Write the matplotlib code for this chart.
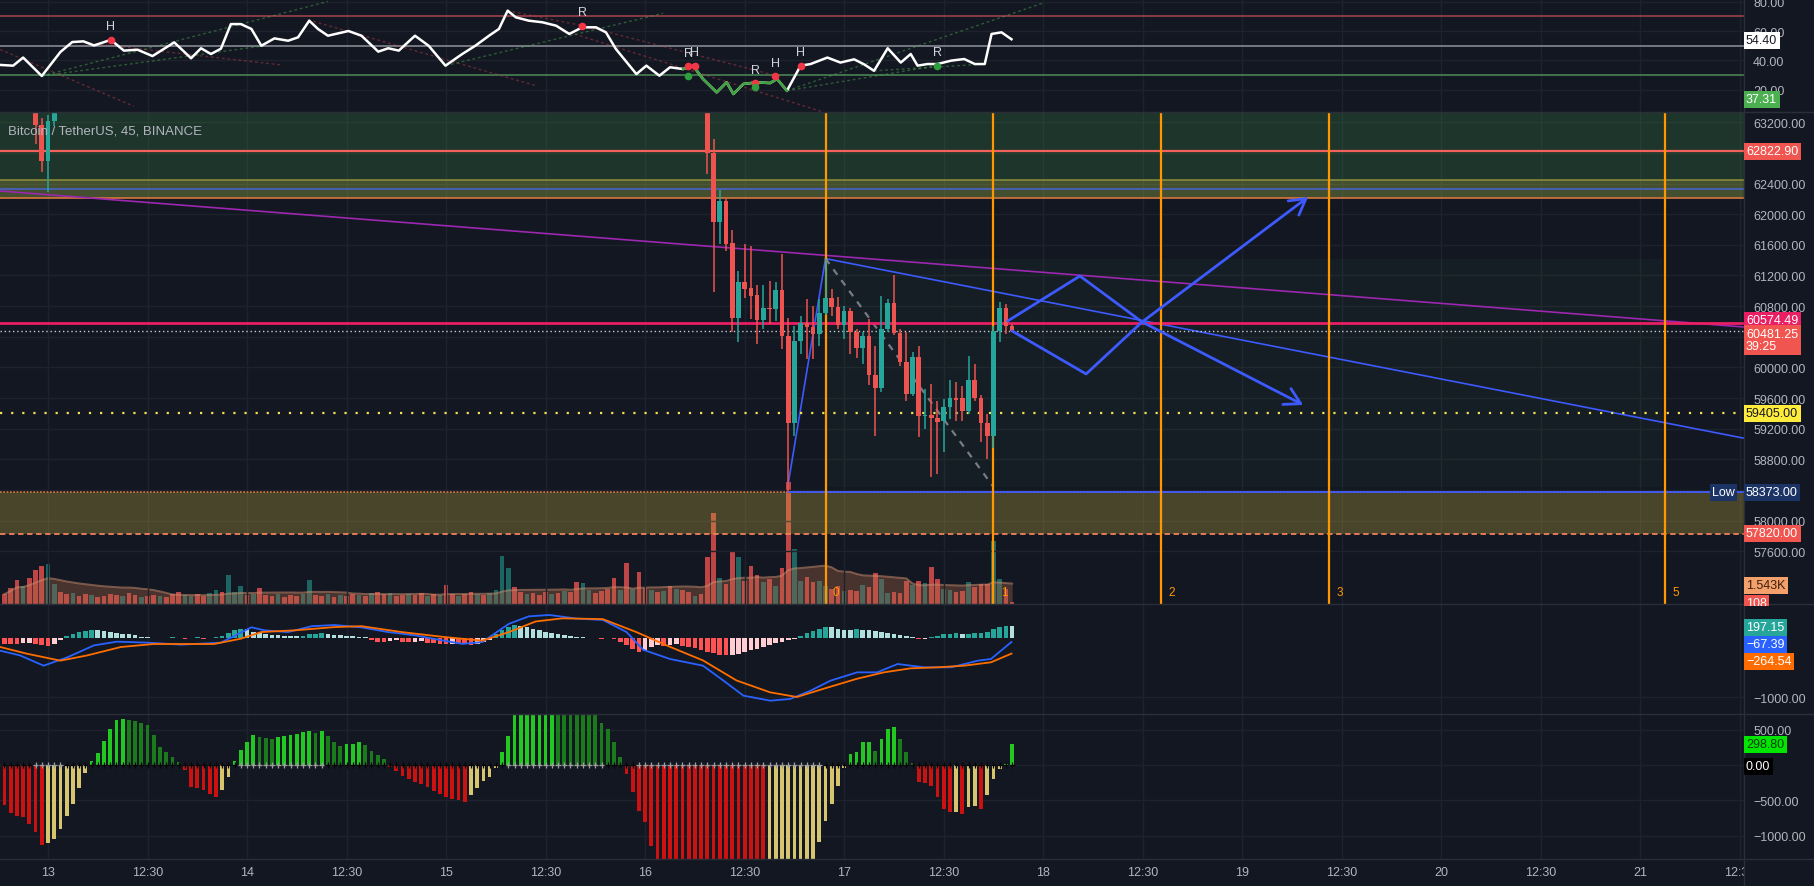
import matplotlib
matplotlib.use('Agg')
import matplotlib.pyplot as plt
import numpy as np
import pandas as pd
from matplotlib.lines import Line2D
from matplotlib.transforms import Bbox, TransformedBbox, blended_transform_factory

# ----------------------------------------------------------------- data
time_label_bars = [0, 16, 32, 48, 64, 80, 96, 112, 128, 144, 160, 176, 192, 208, 224, 240, 256, 272]
time_labels = ['13', '12:30', '14', '12:30', '15', '12:30', '16', '12:30', '17', '12:30',
               '18', '12:30', '19', '12:30', '20', '12:30', '21', '12:30']

price_ticks = [57600, 58000, 58400, 58800, 59200, 59600, 60000, 60400, 60800,
               61200, 61600, 62000, 62400, 62800, 63200]
price_ticks_hidden = [58400, 60400, 62800]     # covered by price tags in the reference
rsi_ticks = [20, 40, 60, 80]
macd_ticks = [-1000]
osc_ticks = [500, 0, -500, -1000]
osc_ticks_hidden = [0]

# candles (bar index: 32 bars of 45 min per day, bar 0 = day 13 00:00)
candle_bar = [-2, -1, 0, 1] + list(range(106, 156))
c_open = [63400, 63160, 62700, 63220,
          63600, 62800, 61900, 62170, 61620, 60650, 61120, 61040, 60940, 60620,
          60775, 60760, 61010, 60415, 59275, 60340, 60575, 60525, 60440, 60705,
          60900, 60785, 60555, 60735, 60460, 60250, 60405, 59900, 59730, 60500,
          60840, 60445, 60065, 59650, 60140, 59365, 59380, 59340, 59300, 59480,
          59600, 59600, 59435, 59840, 59600, 59275, 59100, 60472, 60772, 60546]
c_high = [63500, 63250, 63300, 63450,
          63700, 62980, 62310, 62200, 61800, 61260, 61610, 61590, 61070, 61070,
          61130, 61120, 61480, 60650, 60545, 60675, 60890, 60805, 60890, 61420,
          61020, 60915, 60805, 60780, 60500, 60460, 60635, 60285, 60930, 60895,
          61210, 60500, 60460, 60200, 60285, 59720, 59785, 59565, 59590, 59830,
          59805, 59760, 60155, 60045, 59640, 59390, 60540, 60850, 60830, 60560]
c_low = [62920, 62547, 62286, 63150,
         62520, 60990, 61610, 61520, 60460, 60330, 60900, 60630, 60310, 60500,
         60560, 60600, 60240, 58373, 59110, 60175, 60110, 60110, 60285, 60680,
         60675, 60500, 60370, 60175, 60120, 60045, 59765, 59110, 59675, 60460,
         60420, 60020, 59565, 59630, 59085, 59195, 58570, 58610, 58890, 59325,
         59305, 59305, 59390, 59565, 59020, 58800, 58950, 60330, 60435, 60460]
c_close = [63160, 62700, 63220, 63400,
           62800, 61900, 62170, 61610, 60650, 61120, 61020, 60930, 60620, 60770,
           60765, 61010, 60415, 59275, 60340, 60575, 60525, 60440, 60705, 60900,
           60785, 60555, 60735, 60460, 60250, 60405, 59900, 59730, 60500, 60840,
           60445, 60065, 59650, 60140, 59365, 59380, 59340, 59290, 59480, 59600,
           59580, 59435, 59840, 59600, 59275, 59100, 60472, 60772, 60546, 60481.25]

# per-bar series for bars -7 .. 155
first_bar = -7
volume = [770, 1230, 1850, 1390, 2000, 2620, 2930, 3080, 1540, 920,
          770, 850, 620, 770, 690, 540, 620, 770, 690, 620,
          850, 690, 540, 620, 690, 620, 540, 770, 920, 690,
          620, 770, 620, 850, 1080, 920, 2230, 920, 1390, 690,
          770, 1230, 690, 620, 770, 540, 690, 620, 770, 1850,
          690, 620, 770, 540, 690, 620, 770, 690, 620, 850,
          920, 770, 850, 620, 690, 770, 690, 850, 620, 770,
          690, 1460, 770, 620, 770, 920, 770, 690, 850, 1080,
          3700, 2770, 1310, 920, 770, 850, 690, 920, 770, 850,
          1000, 920, 1690, 1620, 1080, 850, 1000, 1160, 2000, 1080,
          3160, 1160, 2460, 1230, 1080, 920, 1000, 1390, 1160, 1080,
          920, 620, 770, 3620, 7010, 2000, 1540, 4080, 3620, 1770,
          2930, 2230, 1690, 1930, 1390, 2770, 9390, 4240, 1770, 2080,
          1690, 1770, 1390, 1160, 1390, 1000, 1080, 1000, 1460, 1310,
          2390, 1930, 850, 920, 850, 1770, 1460, 1770, 1620, 2850,
          1930, 1160, 1080, 920, 1000, 1690, 1310, 1540, 1540, 4850,
          1930, 1160, 150]
vol_dir = [-1, -1, -1, 1, -1, -1, -1, 1, 1, -1,
           -1, 1, -1, -1, 1, -1, -1, -1, -1, 1,
           -1, -1, 1, -1, -1, 1, -1, -1, -1, 1,
           1, -1, -1, 1, 1, -1, 1, 1, 1, -1,
           1, -1, -1, -1, 1, -1, -1, -1, 1, 1,
           -1, -1, 1, -1, 1, -1, -1, 1, -1, 1,
           -1, -1, 1, -1, -1, 1, -1, -1, 1, -1,
           1, -1, -1, 1, -1, -1, 1, -1, 1, 1,
           1, 1, -1, -1, 1, -1, -1, -1, 1, -1,
           1, -1, -1, 1, 1, -1, -1, -1, -1, 1,
           -1, 1, -1, -1, 1, -1, 1, -1, 1, -1,
           -1, 1, -1, -1, -1, 1, -1, -1, 1, -1,
           -1, -1, 1, -1, 1, -1, -1, 1, 1, -1,
           -1, 1, 1, -1, -1, 1, -1, -1, 1, -1,
           -1, 1, 1, -1, -1, -1, 1, -1, 1, -1,
           -1, 1, 1, -1, -1, 1, -1, -1, -1, 1,
           1, -1, -1]
macd_hist = [-100, -105, -110, -90, -85, -110, -125, -130, -100, -40,
             30, 70, 110, 125, 135, 130, 120, 100, 90, 75,
             60, 45, 25, 10, 5, -5, 5, 10, 0, -10,
             5, 10, -15, 5, 15, 40, 90, 130, 160, 150,
             110, 90, 70, 55, 45, 40, 35, 30, 40, 60,
             75, 80, 70, 55, 45, 40, 30, 20, 10, -30,
             -60, -70, -50, -40, -60, -75, -60, -50, -80, -90,
             -100, -110, -95, -100, -110, -120, -95, -70, -40, 60,
             130, 190, 215, 200, 180, 160, 130, 110, 90, 70,
             50, 40, 25, 15, 5, 0, -10, -5, -20, -60,
             -120, -180, -238, -220, -150, -120, -130, -125, -110, -130,
             -150, -170, -200, -230, -260, -280, -295, -290, -270, -240,
             -210, -180, -150, -120, -90, -60, -40, -15, 30, 80,
             120, 160, 187, 180, 160, 140, 130, 150, 140, 130,
             120, 110, 90, 70, 50, 30, 10, -20, -10, 20,
             40, 60, 75, 80, 70, 75, 80, 90, 110, 150,
             180, 200, 197.15]
osc_hist = [-560, -680, -717, -740, -835, -950, -1130, -1100, -1048, -900,
            -717, -552, -330, -120, 60, 170, 345, 510, 637, 651,
            640, 620, 590, 570, 420, 260, 180, 108, 40, -70,
            -310, -330, -360, -410, -458, -360, -175, 60, 210, 330,
            425, 390, 385, 375, 390, 410, 420, 440, 470, 486,
            460, 486, 410, 320, 275, 300, 300, 320, 280, 200,
            140, 80, -30, -80, -151, -200, -245, -270, -316, -363,
            -410, -458, -480, -500, -519, -430, -330, -222, -175, -40,
            179, 415, 740, 780, 820, 850, 870, 890, 900, 880,
            860, 840, 820, 800, 780, 760, 600, 510, 330, 110,
            -127, -387, -647, -812, -1142, -1400, -1500, -1600, -1700, -1750,
            -1800, -1850, -1900, -1950, -2000, -2050, -2100, -2150, -2200, -2250,
            -2300, -2350, -2400, -2380, -2300, -2200, -2000, -1800, -1600, -1450,
            -1350, -1095, -788, -552, -293, -40, 156, 180, 321, 321,
            200, 368, 510, 533, 370, 180, 30, -245, -260, -300,
            -458, -623, -670, -660, -694, -600, -580, -620, -430, -200,
            -60, 10, 298.8]
squeeze_ranges = [(-2, 2), (31, 44), (74, 89), (95, 124)]

# RSI (sampled)
rsi_bar = [-7.7, -5.6, -4.0, -1.0, 2.0, 3.9, 5.7, 7.4, 10.1, 12.2, 14.4, 16.8, 20.3, 23.0, 24.6,
           26.2, 27.8, 29.4, 31.0, 32.7, 34.3, 36.4, 38.6, 40.2, 42.0, 43.4, 45.0, 48.3, 50.4, 53.1,
           54.7, 56.4, 59.0, 61.2, 63.9, 66.6, 68.7, 70.9, 72.5, 73.9, 75.2, 77.3, 79.5, 81.7, 83.8,
           85.9, 88.1, 89.7, 91.3, 94.6, 96.2, 98.3, 100.0, 102.1, 103.7, 105.3, 107.5, 109.1, 110.2,
           111.8, 114.0, 116.1, 117.2, 118.8, 121.0, 122.6, 125.3, 127.4, 129.6, 131.2, 132.8, 135.0,
           137.1, 138.7, 139.8, 141.4, 143.0, 145.2, 147.3, 149.0, 150.6, 151.7, 153.3, 154.9]
rsi_val = [37, 36.5, 42, 29.5, 45.8, 52.5, 53, 50.2, 54, 46.7, 47.3, 43, 52.3, 41.5, 48.3,
           44.4, 48, 64.7, 64.7, 61.4, 50, 55, 53.4, 55.7, 67, 61.4, 56.8, 60, 56.8, 46,
           48.3, 46.7, 56.8, 50, 36.5, 44.4, 50, 56.8, 61.4, 73.8, 69.3, 67, 65.9, 63.6, 58,
           62.5, 62.5, 59.1, 47.8, 30.8, 36.5, 29.7, 35.4, 34.2, 36.5, 27.5, 18.4, 25.2, 17.3,
           24.1, 25.2, 24.7, 27.5, 19.5, 36.5, 37.6, 42, 38.6, 40.8, 37.4, 33, 48.3,
           38.6, 44.4, 36.5, 37.6, 37.6, 39.9, 41, 37.6, 37.6, 58, 59.1, 54.4]
rsi_levels = [70, 50, 30]
rsi_div_range = (102.0, 119.0)
rsi_pivots = [(10.1, 54.0, 'H', 'r'), (85.9, 63.6, 'R', 'r'), (102.9, 36.0, 'R', 'r'),
              (104.0, 36.5, 'H', 'r'), (113.7, 24.5, 'R', 'r'), (116.9, 29.5, 'H', 'r'),
              (121.0, 36.5, 'H', 'r'), (143.0, 36.5, 'R', 'g')]
rsi_green_dots = [(102.9, 29.7), (113.7, 22.2)]
rsi_red_lines = [((-7.7, 13.8), (47.5, 9)), ((4, 37.5), (53, 37)), ((41.8, 78.4), (67.6, 23)),
                 ((73.8, 86), (73.8, 63.6)), ((86, 117.2), (63.6, 29.6)), ((83.8, 124.7), (59, 5))]
rsi_green_lines = [((-1, 45), (29.5, 80)), ((-1, 34.8), (29.5, 50)), ((63.9, 98.9), (36.5, 72)),
                   ((118.8, 160), (19.5, 79)), ((118.8, 143), (19.5, 36.5)), ((132.8, 150.6), (33, 37.6))]

# MACD lines (sampled)
macd_bar = [-7.7, -4.5, -0.7, 3.1, 7.4, 11.1, 16, 21.4, 27.8, 32.7, 34.8, 38.6, 42.4, 46.1, 50.4,
            54.7, 59, 63.4, 66.6, 69.8, 74.1, 77.3, 80.6, 84.9, 89.2, 93, 95.7, 100, 105.3, 108.6,
            111.8, 116.1, 119.3, 122.6, 125.8, 130.1, 133.3, 136.6, 140.9, 145.2, 149.5, 151.6, 154.9]
macd_val = [-215, -295, -469, -328, -125, -62, -79, -113, -79, 181, 130, 100, 200, 220, 180,
            100, 45, -40, -100, -70, 240, 367, 390, 330, 305, 102, -200, -356, -469, -723,
            -977, -1062, -1034, -893, -723, -582, -582, -441, -497, -497, -384, -356, -67.39]
sig_bar = [-7.7, -3.4, 2, 6.3, 11.7, 17, 26.7, 31, 34.3, 39.7, 46.1, 50.4, 56.9, 63.4, 69.8,
           74.1, 78.4, 82.7, 89.2, 94.6, 100, 105.3, 110.7, 116.1, 120.4, 124.7, 130.1, 134.4,
           138.7, 143, 147.3, 151.6, 154.9]
sig_val = [-152, -266, -384, -295, -153, -102, -102, -12, 101, 130, 185, 200, 100, 20, -45,
           100, 280, 333, 320, 100, -150, -380, -720, -921, -1000, -860, -690, -582,
           -514, -497, -469, -412, -264.54]

# price levels / drawings
resist_level = 62822.90
top_zone = (62212, 64000)
top_band = (62212, 62445)
band_mid_level = 62330
pink_level = 60574.49
last_price = 60481.25
yellow_level = 59405.00
low_level = 58373.00
support_level = 57820.00
low_bar = 119
purple_bars, purple_price = [-8, 273], [62305, 60525]
desc_bars, desc_price = [125, 273], [61420, 59070]
rise_bars, rise_price = [119, 125], [58480, 61420]
dash_bars, dash_price = [125, 152], [61420, 58440]
pattern_bars, pattern_price = (125, 259.5), (58440, 61420)
fc_up_bars, fc_up_price = [155, 166.9, 175.9, 202.6], [60475, 59914, 60593, 62225]
fc_dn_bars, fc_dn_price = [154.3, 165.9, 175.9, 201.8], [60606, 61193, 60593, 59510]
fib_bars = [125, 152, 179, 206, 260]
fib_labels = ['0', '1', '2', '3', '5']

# ----------------------------------------------------------------- style
W, H, DPI = 1814, 887, 100
BG = '#131722'
GRID = '#1e222d'
TXT = '#b2b5be'
SEP = '#2a2e39'
UP = '#26a69a'
DN = '#ef5350'
BLUE = '#3d5afe'
PLOT_R = 1744
XMIN, XMAX = -48 / 6.22, (PLOT_R - 48) / 6.22

plt.rcParams['font.family'] = ['Liberation Sans', 'DejaVu Sans']

fig = plt.figure(figsize=(W / DPI, H / DPI), dpi=DPI, facecolor=BG)


def rect(y0, y1):
    return [0, 1 - y1 / H, PLOT_R / W, (y1 - y0) / H]


ax_rsi = fig.add_axes(rect(0, 113))
ax_vol = fig.add_axes(rect(113, 605))
ax = fig.add_axes(rect(113, 605))
ax_macd = fig.add_axes(rect(605, 715))
ax_osc = fig.add_axes(rect(715, 860))

for a in (ax_rsi, ax, ax_macd, ax_osc):
    a.set_facecolor(BG)
    a.set_xlim(XMIN, XMAX)
    for s in a.spines.values():
        s.set_visible(False)
    a.yaxis.tick_right()
    a.tick_params(axis='y', colors=TXT, labelsize=9, length=0, pad=6.5)
    a.tick_params(axis='x', length=0, labelbottom=False)
    a.set_xticks(time_label_bars)
    a.grid(True, color=GRID, lw=1)
    a.set_axisbelow(True)

ax_vol.set_facecolor(BG)
ax_vol.set_xlim(XMIN, XMAX)
ax_vol.axis('off')
ax_vol.set_zorder(0)
ax.set_facecolor('none')
ax.set_zorder(1)

bars = np.arange(first_bar, first_bar + len(volume))

# ----------------------------------------------------------------- RSI
ax_rsi.set_ylim(5.08, 81.7)
ax_rsi.set_yticks(rsi_ticks)
ax_rsi.set_yticklabels([f'{t:.2f}' for t in rsi_ticks])
for lv, col in zip(rsi_levels, ['#a8444f', '#8f929b', '#4f8a5a']):
    ax_rsi.axhline(lv, color=col, lw=1.1, zorder=1)
for (xs, ys) in rsi_red_lines:
    ax_rsi.plot(xs, ys, color='#c2404a', lw=1, alpha=0.45, ls=(0, (2, 2)), zorder=1.5)
for (xs, ys) in rsi_green_lines:
    ax_rsi.plot(xs, ys, color='#4caf50', lw=1, alpha=0.45, ls=(0, (2, 2)), zorder=1.5)
ax_rsi.plot(rsi_bar, rsi_val, color='white', lw=1.8, zorder=3)
rb = np.array(rsi_bar)
rv = np.array(rsi_val)
m = (rb >= rsi_div_range[0]) & (rb <= rsi_div_range[1])
ax_rsi.plot(rb[m], rv[m], color='#3ca33c', lw=1.8, zorder=3.5)
for bx, by, lab, c in rsi_pivots:
    col = '#f23645' if c == 'r' else '#2e9e3e'
    ax_rsi.plot([bx], [by], 'o', ms=4.5, color=col, zorder=4)
    ax_rsi.text(bx, by + 5, lab, color='#d1d4dc', fontsize=9, ha='center', va='bottom', zorder=5)
for bx, by in rsi_green_dots:
    ax_rsi.plot([bx], [by], 'o', ms=4.5, color='#2e9e3e', zorder=4)

# ----------------------------------------------------------------- volume
vol = np.array(volume, dtype=float)
vcols = [DN if d < 0 else UP for d in vol_dir]
valphas = [0.78 if d < 0 else 0.55 for d in vol_dir]
ax_vol.set_ylim(0, 37884)
for b, v, c, al in zip(bars, vol, vcols, valphas):
    ax_vol.bar(b, v, width=0.75, color=c, alpha=al, lw=0, zorder=2)
vma = pd.Series(vol).rolling(20, min_periods=1).mean().values
ax_vol.fill_between(bars, 0, vma, color='#b0694a', alpha=0.35, lw=0, zorder=3)
ax_vol.plot(bars, vma, color='#c98c6c', lw=1.4, alpha=0.55, zorder=3)

# ----------------------------------------------------------------- main price pane
ax.set_ylim(56911, 63334)
ax.set_yticks(price_ticks)
ax.set_yticklabels(['' if t in price_ticks_hidden else f'{t:.2f}' for t in price_ticks])

ax.axhspan(*top_zone, color='#4caf50', alpha=0.2, lw=0, zorder=1)
ax.axhspan(*top_band, color='#c8b040', alpha=0.22, lw=0, zorder=1)
ax.axhspan(support_level, low_level, color='#c8b040', alpha=0.3, lw=0, zorder=1)
ax.fill_between(pattern_bars, pattern_price[0], pattern_price[1], color='#4caf50', alpha=0.05, lw=0, zorder=1)

ax.axhline(resist_level, color='#f0625a', lw=1.6, zorder=2)
ax.axhline(top_band[1], color='#8f8f3a', lw=1.1, zorder=2)
ax.axhline(band_mid_level, color='#4a63c9', lw=1.2, zorder=2)
ax.axhline(top_band[0], color='#d9773d', lw=1.2, zorder=2)
ax.axhline(low_level, color='#d9773d', lw=1.2, ls=(0, (1, 1)), zorder=2)
ax.plot([low_bar, XMAX + 1], [low_level, low_level], color=BLUE, lw=1.3, zorder=2.2)
ax.axhline(support_level, color='#f0825a', lw=1.3, ls=(0, (3, 2)), zorder=2)

ax.plot(purple_bars, purple_price, color='#9c27b0', lw=1.2, zorder=2)
ax.plot(desc_bars, desc_price, color=BLUE, lw=1.2, zorder=2)
ax.plot(rise_bars, rise_price, color=BLUE, lw=1.2, zorder=2)
ax.plot(dash_bars, dash_price, color='#787b86', lw=1.6, ls=(0, (3, 3)), zorder=2)

ax.axhline(pink_level, color='#e91e63', lw=2.0, zorder=2.5)
ax.axhline(last_price, color='#c8cad0', lw=1.0, ls=(0, (1, 2)), zorder=2.5)
ax.axhline(yellow_level, color='#f5e050', lw=1.6, ls=(0, (1, 4)), zorder=2.5)

for b in fib_bars:
    ax.axvline(b, color='#ff9800', lw=1.6, zorder=2.8)
tr = blended_transform_factory(ax.transData, ax.transAxes)
for b, lab in zip(fib_bars, fib_labels):
    ax.text(b + 1.2, 0.024, lab, transform=tr, color='#ff9800', fontsize=8.5, ha='left', va='center', zorder=3)

# candles
for b, o, h, l, c in zip(candle_bar, c_open, c_high, c_low, c_close):
    col = UP if c >= o else DN
    ax.vlines(b, l, h, color=col, lw=1.1, zorder=4)
    ax.bar(b, max(abs(c - o), 10), bottom=min(o, c), width=0.75, color=col, lw=0, zorder=4.2)

# forecast arrows
for xs, ys in ((fc_up_bars, fc_up_price), (fc_dn_bars, fc_dn_price)):
    ax.plot(xs[:-1], ys[:-1], color=BLUE, lw=2, zorder=5, solid_capstyle='round')
    ax.annotate('', xy=(xs[-1], ys[-1]), xytext=(xs[-2], ys[-2]),
                arrowprops=dict(arrowstyle='->,head_length=0.7,head_width=0.4', color=BLUE, lw=2,
                                shrinkA=0, shrinkB=0, mutation_scale=16), zorder=5)

ax.text(8 / PLOT_R, 1 - 18 / 492, 'Bitcoin / TetherUS, 45, BINANCE', transform=ax.transAxes,
        color=TXT, fontsize=9.5, ha='left', va='center', zorder=6)

# ----------------------------------------------------------------- MACD
ax_macd.set_ylim(-1288, 576)
ax_macd.set_yticks(macd_ticks)
ax_macd.set_yticklabels(['\u22121000.00'])
mcols = []
prev = None
for v in macd_hist:
    if v >= 0:
        mcols.append('#26a69a' if (prev is None or v >= prev) else '#b2dfdb')
    else:
        mcols.append('#ff5252' if (prev is None or v <= prev) else '#ffcdd2')
    prev = v
ax_macd.bar(bars, macd_hist, width=0.75, color=mcols, lw=0, zorder=2)
ax_macd.plot(macd_bar, macd_val, color='#2962ff', lw=1.3, zorder=3)
ax_macd.plot(sig_bar, sig_val, color='#ff6d00', lw=1.3, zorder=3)

# ----------------------------------------------------------------- squeeze oscillator
ax_osc.set_ylim(-1331, 722)
ax_osc.set_yticks(osc_ticks)
osc_lab = {500: '500.00', 0: '0.00', -500: '\u2212500.00', -1000: '\u22121000.00'}
ax_osc.set_yticklabels(['' if t in osc_ticks_hidden else osc_lab[t] for t in osc_ticks])
ocols = []
prev = None
for v in osc_hist:
    if v >= 0:
        ocols.append('#22c722' if (prev is None or v >= prev) else '#1b7a1b')
    else:
        ocols.append('#cc1111' if (prev is None or v <= prev) else '#d6c56e')
    prev = v
ax_osc.bar(bars, osc_hist, width=0.6, color=ocols, lw=0, zorder=2)
zc = []
for b in bars:
    on = any(lo <= b <= hi for lo, hi in squeeze_ranges)
    zc.append('#9e9e9e' if on else '#050505')
ax_osc.scatter(bars, np.zeros(len(bars)), marker='+', s=14, c=zc, lw=0.9, zorder=3)

ax_osc.tick_params(axis='x', labelbottom=True, colors=TXT, labelsize=9, pad=5)
ax_osc.set_xticklabels(time_labels)
clipbox = TransformedBbox(Bbox.from_extents(0, 0, PLOT_R / W, 1), fig.transFigure)
for lab in ax_osc.get_xticklabels():
    lab.set_clip_on(True)
    lab.set_clip_box(clipbox)

# ----------------------------------------------------------------- separators
for y in (113, 605, 715, 860):
    fig.add_artist(Line2D([0, 1], [1 - y / H, 1 - y / H], color=SEP, lw=1, transform=fig.transFigure))
fig.add_artist(Line2D([PLOT_R / W, PLOT_R / W], [0, 1], color=SEP, lw=1, transform=fig.transFigure))


# ----------------------------------------------------------------- price tags
def tag(y, text, fc, tc='white', x=1746, clip=None, **kw):
    t = fig.text(x / W, 1 - y / H, text, ha='left', va='center', fontsize=9, color=tc,
                 bbox=dict(boxstyle='square,pad=0.2', fc=fc, ec='none'), zorder=10, **kw)
    if clip is not None:
        cb = TransformedBbox(Bbox.from_extents(PLOT_R / W, 1 - clip[1] / H, 1, 1 - clip[0] / H), fig.transFigure)
        t.set_clip_on(True)
        t.set_clip_box(cb)
    return t


tag(41, '54.40', 'white', '#131722')
tag(100, '37.31', '#4caf50')
tag(152, '62822.90', '#f0554f')
tag(321, '60574.49', '#e91e63')
tag(341, '60481.25\n39:25', '#f0554f', linespacing=1.1)
tag(414, '59405.00', '#ffeb3b', '#131722')
tag(493, '58373.00', '#1c3366')
fig.text(1712 / W, 1 - 493 / H, 'Low', ha='left', va='center', fontsize=9, color='white',
         bbox=dict(boxstyle='square,pad=0.2', fc='#1c3366', ec='none'), zorder=10)
tag(534, '57820.00', '#f0554f')
tag(586, '1.543K', '#f4a06a', '#3a2010')
tag(604, '108', '#f0554f', clip=(113, 607))
tag(628, '197.15', '#26a69a')
tag(645, '\u221267.39', '#2962ff')
tag(662, '\u2212264.54', '#ff6d00')
tag(745, '298.80', '#00e600', '#0b3d0b')
tag(767, '0.00', '#000000')

fig.savefig('out.png', dpi=DPI, facecolor=BG)
